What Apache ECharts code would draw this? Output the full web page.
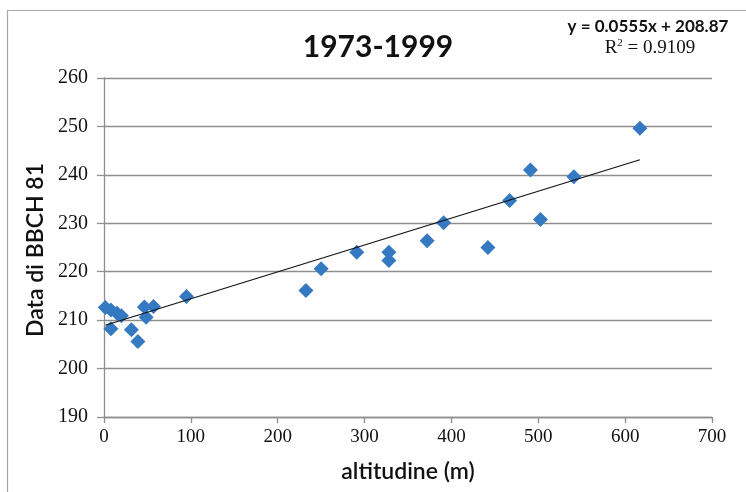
<!DOCTYPE html>
<html>
<head>
<meta charset="utf-8">
<script src="https://cdn.jsdelivr.net/npm/echarts@6/dist/echarts.min.js"></script>
<style>
  html, body { margin: 0; padding: 0; background: #ffffff; }
  #chart { width: 746px; height: 492px; }
</style>
</head>
<body>
<div id="chart"></div>
<script>
// Altitude of each site (m) and the day of year of BBCH stage 81
const altitude = [1.5, 8, 15, 20, 8, 31.5, 39, 46.5, 48.5, 57, 95,
                  232.5, 250, 291, 328, 328, 372, 391, 442, 467, 491, 502.5, 541, 617];
const bbchDay  = [212.6, 212.1, 211.4, 210.9, 208.2, 208.0, 205.6, 212.7, 210.6, 212.8, 214.9,
                  216.1, 220.6, 224.0, 224.0, 222.3, 226.4, 230.1, 225.0, 234.7, 241.0, 230.8, 239.6, 249.6];

// Axis ranges and tick steps
const xRange = [0, 700];
const xStep = 100;
const yRange = [190, 260];
const yStep = 10;

// Linear trend line y = slope * x + intercept
const trendSlope = 0.0555;
const trendIntercept = 208.87;
const rSquared = '0.9109';

const chartTitle = '1973-1999';
const xName = 'altitudine (m)';
const yName = 'Data di BBCH 81';

const points = altitude.map((x, i) => [x, bbchDay[i]]);
const xLo = Math.min(...altitude);
const xHi = Math.max(...altitude);
const trend = [
  [xLo, trendSlope * xLo + trendIntercept],
  [xHi, trendSlope * xHi + trendIntercept]
];

const gridGray = '#8e8e8e';
const labelFont = 'Liberation Serif';
const sansFont = 'Lato';

const chart = echarts.init(document.getElementById('chart'), null, { renderer: 'canvas' });

chart.setOption({
  animation: false,
  backgroundColor: '#ffffff',
  grid: { left: 104, right: 34, top: 78, bottom: 75, containLabel: false },
  xAxis: {
    type: 'value',
    min: xRange[0], max: xRange[1], interval: xStep,
    axisLine: { show: true, onZero: false, lineStyle: { color: gridGray, width: 1.3 } },
    axisTick: { show: true, inside: false, length: 6, lineStyle: { color: gridGray, width: 1.3 } },
    axisLabel: { color: '#111', fontFamily: labelFont, fontSize: 19, margin: 11 },
    splitLine: { show: false }
  },
  yAxis: {
    type: 'value',
    min: yRange[0], max: yRange[1], interval: yStep,
    axisLine: { show: true, onZero: false, lineStyle: { color: gridGray, width: 1.3 } },
    axisTick: { show: true, inside: false, length: 7, lineStyle: { color: gridGray, width: 1.3 } },
    axisLabel: { color: '#111', fontFamily: labelFont, fontSize: 20, margin: 16 },
    splitLine: { show: true, lineStyle: { color: gridGray, width: 1.3 } }
  },
  series: [
    {
      name: 'BBCH 81',
      type: 'scatter',
      symbol: 'diamond',
      symbolSize: 15,
      itemStyle: { color: '#3479c2', opacity: 1 },
      data: points,
      z: 3
    },
    {
      name: 'trend',
      type: 'line',
      data: trend,
      symbol: 'none',
      lineStyle: { color: '#111', width: 1.2 },
      z: 4
    }
  ],
  graphic: [
    {
      type: 'rect',
      shape: { x: 7.5, y: 10.5, width: 900, height: 700 },
      style: { fill: 'none', stroke: '#a6a6a6', lineWidth: 1.2 },
      silent: true
    },
    {
      type: 'text', x: 378, y: 47,
      style: {
        text: chartTitle, fontFamily: sansFont, fontWeight: 'bold', fontSize: 30,
        fill: '#111', textAlign: 'center', textVerticalAlign: 'middle'
      }
    },
    {
      type: 'text', x: 648, y: 27,
      style: {
        text: 'y = ' + trendSlope + 'x + ' + trendIntercept,
        fontFamily: sansFont, fontWeight: 'bold', fontSize: 17,
        fill: '#111', textAlign: 'center', textVerticalAlign: 'middle'
      }
    },
    {
      type: 'text', x: 650, y: 48,
      style: {
        text: '{r|R}{s|2}{r| = ' + rSquared + '}',
        rich: {
          r: { fontFamily: labelFont, fontSize: 19, fill: '#111', verticalAlign: 'bottom' },
          s: { fontFamily: labelFont, fontSize: 11, fill: '#111', verticalAlign: 'top', padding: [0, 0, 9, 0] }
        },
        textAlign: 'center', textVerticalAlign: 'middle'
      }
    },
    {
      type: 'text', x: 408, y: 472,
      style: {
        text: xName, fontFamily: sansFont, fontSize: 23, fontWeight: 600,
        fill: '#111', textAlign: 'center', textVerticalAlign: 'middle'
      }
    },
    {
      type: 'text', x: 36, y: 250, rotation: Math.PI / 2,
      style: {
        text: yName, fontFamily: sansFont, fontSize: 23, fontWeight: 600,
        fill: '#111', textAlign: 'center', textVerticalAlign: 'middle'
      }
    }
  ]
});
</script>
</body>
</html>
